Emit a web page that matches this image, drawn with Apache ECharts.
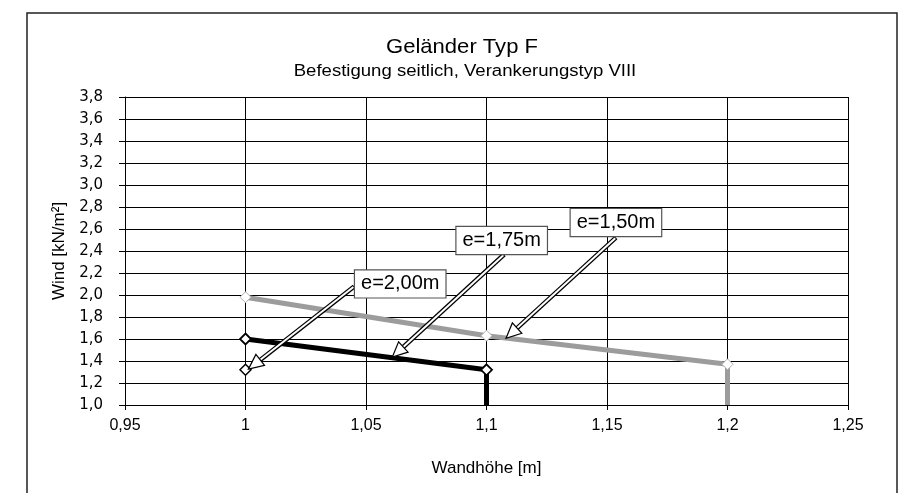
<!DOCTYPE html>
<html>
<head>
<meta charset="utf-8">
<script src="https://cdn.jsdelivr.net/npm/echarts@6/dist/echarts.min.js"></script>
<style>
  html, body { margin: 0; padding: 0; background: #ffffff; }
  #chart { width: 900px; height: 493px; }
</style>
</head>
<body>
<div id="chart"></div>
<script>
// Wall height [m] vs. admissible wind load [kN/m²] for each post spacing e
const seriesNames = ['e=1,50m', 'e=1,75m', 'e=2,00m'];
const wallHeight150 = [1.0, 1.1, 1.2, 1.2];
const wind150 = [1.98, 1.63, 1.37, 1.0];
const wallHeight175 = [1.0, 1.1, 1.1];
const wind175 = [1.6, 1.32, 1.0];
const wallHeight200 = [1.0, 1.0];
const wind200 = [1.32, 1.0];

// Callouts (data coordinates): label centre, arrow tail, arrow tip
const calloutLabelX = [1.1537, 1.1063, 1.0642];
const calloutLabelY = [2.658, 2.495, 2.101];
const calloutTailX = [1.1537, 1.1073, 1.0451];
const calloutTailY = [2.522, 2.368, 2.078];
const calloutTipX = [1.1081, 1.0609, 1.0012];
const calloutTipY = [1.607, 1.435, 1.326];

const titleText = 'Geländer Typ F';
const subtitleText = 'Befestigung seitlich, Verankerungstyp VIII';
const xAxisName = 'Wandhöhe [m]';
const yAxisName = 'Wind [kN/m²]';

function toPairs(xs, ys) {
  return xs.map((x, i) => [x, ys[i]]);
}
// the last point of each curve only closes the line down to the axis
function withEndpoint(pairs) {
  return pairs.map((p, i) => (i === pairs.length - 1 ? { value: p, symbol: 'none' } : p));
}

const chart = echarts.init(document.getElementById('chart'), null, { renderer: 'canvas' });

const baseFont = 'Liberation Sans, Arial, sans-serif';

chart.setOption({
  animation: false,
  backgroundColor: '#ffffff',
  grid: { left: 125, right: 52, top: 97, bottom: 88, containLabel: false },
  xAxis: {
    type: 'value',
    min: 0.95,
    max: 1.25,
    interval: 0.05,
    name: xAxisName,
    nameLocation: 'middle',
    nameGap: 55,
    nameTextStyle: { color: '#000', fontSize: 17, fontFamily: baseFont },
    axisLine: { show: true, lineStyle: { color: '#000', width: 1 } },
    axisTick: { show: true, inside: false, length: 5, lineStyle: { color: '#000' } },
    axisLabel: {
      color: '#000', fontSize: 16, fontFamily: baseFont, margin: 13,
      formatter: v => String(parseFloat(v.toFixed(2))).replace('.', ',')
    },
    splitLine: { show: true, lineStyle: { color: '#000', width: 1 } }
  },
  yAxis: {
    type: 'value',
    min: 1.0,
    max: 3.8,
    interval: 0.2,
    name: yAxisName,
    nameLocation: 'middle',
    nameGap: 53,
    nameRotate: 90,
    nameTextStyle: { color: '#000', fontSize: 17, fontFamily: baseFont },
    axisLine: { show: true, lineStyle: { color: '#000', width: 1 } },
    axisTick: { show: true, inside: false, length: 6, lineStyle: { color: '#000' } },
    axisLabel: {
      color: '#000', fontSize: 15, fontFamily: 'DejaVu Sans, sans-serif', margin: 22,
      formatter: v => v.toFixed(1).replace('.', ',')
    },
    splitLine: { show: true, lineStyle: { color: '#000', width: 1 } }
  },
  series: [
    {
      name: seriesNames[0],
      type: 'line',
      data: withEndpoint(toPairs(wallHeight150, wind150)),
      symbol: 'diamond',
      symbolSize: 11,
      lineStyle: { color: '#9c9c9c', width: 5 },
      itemStyle: { color: '#ffffff', borderColor: '#b0b0b0', borderWidth: 1 },
      z: 3
    },
    {
      name: seriesNames[1],
      type: 'line',
      data: withEndpoint(toPairs(wallHeight175, wind175)),
      symbol: 'diamond',
      symbolSize: 11,
      lineStyle: { color: '#000000', width: 5 },
      itemStyle: { color: '#ffffff', borderColor: '#000000', borderWidth: 1.8 },
      z: 4
    },
    {
      name: seriesNames[2],
      type: 'line',
      data: withEndpoint(toPairs(wallHeight200, wind200)),
      symbol: 'diamond',
      symbolSize: 11,
      lineStyle: { color: '#000000', width: 1 },
      itemStyle: { color: '#ffffff', borderColor: '#000000', borderWidth: 1.5 },
      z: 5
    }
  ]
});

function buildGraphics() {
  const els = [];
  // outer chart frame (open towards the bottom edge of the page)
  els.push({
    type: 'rect', silent: true, z: 0,
    shape: { x: 27, y: 13, width: 870, height: 500 },
    style: { fill: 'none', stroke: '#222', lineWidth: 1.5 }
  });
  els.push({
    type: 'text', z: 10, x: 462, y: 47, scaleX: 1.05,
    style: { x: 0, y: 0, text: titleText, fill: '#000', font: '21px ' + baseFont,
             textAlign: 'center', textVerticalAlign: 'middle' }
  });
  els.push({
    type: 'text', z: 10, x: 465, y: 72, scaleX: 1.16,
    style: { x: 0, y: 0, text: subtitleText, fill: '#000', font: '16px ' + baseFont,
             textAlign: 'center', textVerticalAlign: 'middle' }
  });

  const headLen = 15, headHalf = 7;
  for (let i = 0; i < seriesNames.length; i++) {
    const tail = chart.convertToPixel({ xAxisIndex: 0, yAxisIndex: 0 }, [calloutTailX[i], calloutTailY[i]]);
    const tip = chart.convertToPixel({ xAxisIndex: 0, yAxisIndex: 0 }, [calloutTipX[i], calloutTipY[i]]);
    const lab = chart.convertToPixel({ xAxisIndex: 0, yAxisIndex: 0 }, [calloutLabelX[i], calloutLabelY[i]]);
    const dx = tip[0] - tail[0], dy = tip[1] - tail[1];
    const len = Math.hypot(dx, dy);
    const ux = dx / len, uy = dy / len;
    const bx = tip[0] - ux * headLen, by = tip[1] - uy * headLen;
    const px = -uy, py = ux;
    // hollow double-line shaft
    els.push({
      type: 'line', z: 20, silent: true,
      shape: { x1: tail[0], y1: tail[1], x2: bx, y2: by },
      style: { stroke: '#000', lineWidth: 4.5 }
    });
    els.push({
      type: 'line', z: 21, silent: true,
      shape: { x1: tail[0] + ux * 1, y1: tail[1] + uy * 1, x2: bx + ux * 1.5, y2: by + uy * 1.5 },
      style: { stroke: '#fff', lineWidth: 2 }
    });
    // hollow arrow head
    els.push({
      type: 'polygon', z: 22, silent: true,
      shape: { points: [[tip[0], tip[1]], [bx + px * headHalf, by + py * headHalf], [bx - px * headHalf, by - py * headHalf]] },
      style: { fill: '#fff', stroke: '#000', lineWidth: 1.2 }
    });
    // label box
    els.push({
      type: 'text', z: 25,
      style: {
        x: lab[0], y: lab[1], text: seriesNames[i], fill: '#000', font: '20px ' + baseFont,
        textAlign: 'center', textVerticalAlign: 'middle',
        backgroundColor: '#fff', borderColor: '#555', borderWidth: 1.2,
        padding: [4, 6, 3, 6]
      }
    });
  }
  return els;
}

chart.setOption({ graphic: buildGraphics() });
</script>
</body>
</html>
